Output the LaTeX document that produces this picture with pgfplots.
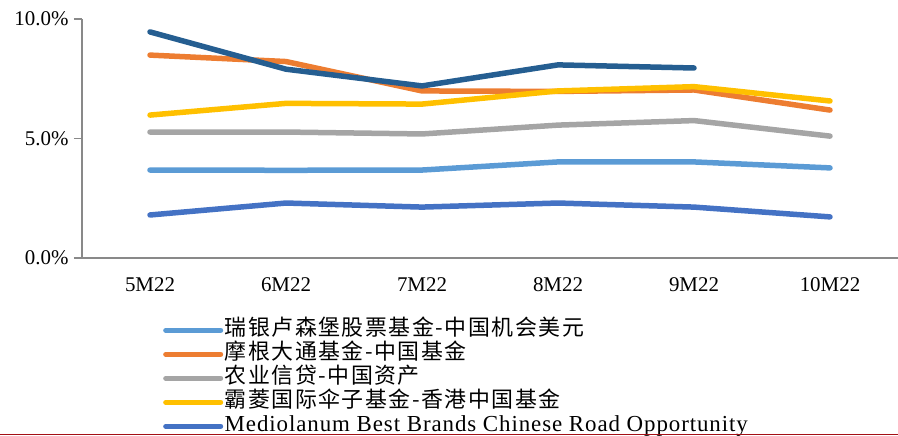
\documentclass[border=0pt]{standalone}
\usepackage{fontspec}
\setmainfont{Liberation Serif}
\newfontfamily\cjk[LetterSpace=7]{Noto Sans CJK SC}
\newfontfamily\wide[LetterSpace=4]{Liberation Serif}
\usepackage{pgfplots}
\pgfplotsset{compat=1.18}

\definecolor{cLight}{HTML}{5B9BD5}
\definecolor{cOrange}{HTML}{ED7D31}
\definecolor{cGray}{HTML}{A5A5A5}
\definecolor{cYellow}{HTML}{FFC000}
\definecolor{cBlue}{HTML}{4472C4}
\definecolor{cDark}{HTML}{255E91}
\definecolor{cAxis}{HTML}{898989}
\definecolor{cRed}{HTML}{A50F15}

\begin{document}
\begin{tikzpicture}
\useasboundingbox (-82bp,-178bp) rectangle (816bp,258bp);
\begin{axis}[
  at={(0,0)}, anchor=south west,
  scale only axis,
  width=816bp, height=239bp,
  xmin=-0.5, xmax=5.5,
  ymin=0, ymax=10,
  axis lines*=left,
  axis line style={cAxis, line width=1.3bp},
  xtick={0,1,2,3,4,5},
  xticklabels={5M22,6M22,7M22,8M22,9M22,10M22},
  xtick style={draw=none},
  xticklabel style={font=\fontsize{21}{24}\selectfont, yshift=-8bp},
  ytick={0,5,10},
  ytick style={cAxis, line width=1.3bp},
  tick align=outside,
  major tick length=8bp,
  yticklabel={\pgfmathprintnumber[fixed,fixed zerofill,precision=1]{\tick}\%},
  yticklabel style={font=\fontsize{21}{24}\selectfont, xshift=-2bp},
  /pgf/number format/assume math mode=true,
  every axis plot/.append style={line width=5.5bp, line cap=round, line join=round},
  legend cell align=left,
  legend style={
    at={(0.0956,-0.243)}, anchor=north west,
    draw=none, fill=none,
    font=\fontsize{22}{24}\selectfont,
    row sep=0pt,
    nodes={inner sep=1.5bp, text height=16bp, text depth=5bp},
  },
  legend image code/.code={\draw[#1, line width=5bp, line cap=round] (0bp,0bp) -- (55bp,0bp);},
]
\addplot[cLight] coordinates {(0,3.68)(1,3.67)(2,3.68)(3,4.02)(4,4.02)(5,3.77)};
\addlegendentry{{\cjk 瑞银卢森堡股票基金-中国机会美元}}
\addplot[cOrange] coordinates {(0,8.49)(1,8.22)(2,6.99)(3,6.97)(4,7.03)(5,6.19)};
\addlegendentry{{\cjk 摩根大通基金-中国基金}}
\addplot[cGray] coordinates {(0,5.27)(1,5.27)(2,5.19)(3,5.56)(4,5.75)(5,5.10)};
\addlegendentry{{\cjk 农业信贷-中国资产}}
\addplot[cYellow] coordinates {(0,5.98)(1,6.47)(2,6.44)(3,6.99)(4,7.17)(5,6.57)};
\addlegendentry{{\cjk 霸菱国际伞子基金-香港中国基金}}
\addplot[cBlue] coordinates {(0,1.80)(1,2.30)(2,2.13)(3,2.30)(4,2.13)(5,1.72)};
\addlegendentry{{\wide\fontsize{23}{24}\selectfont Mediolanum Best Brands Chinese Road Opportunity}}
\addplot[cDark, forget plot] coordinates {(0,9.46)(1,7.90)(2,7.20)(3,8.08)(4,7.95)};
\end{axis}
\draw[cRed, line width=1.5bp] (-82bp,-176.5bp) -- (816bp,-176.5bp);
\end{tikzpicture}
\end{document}
